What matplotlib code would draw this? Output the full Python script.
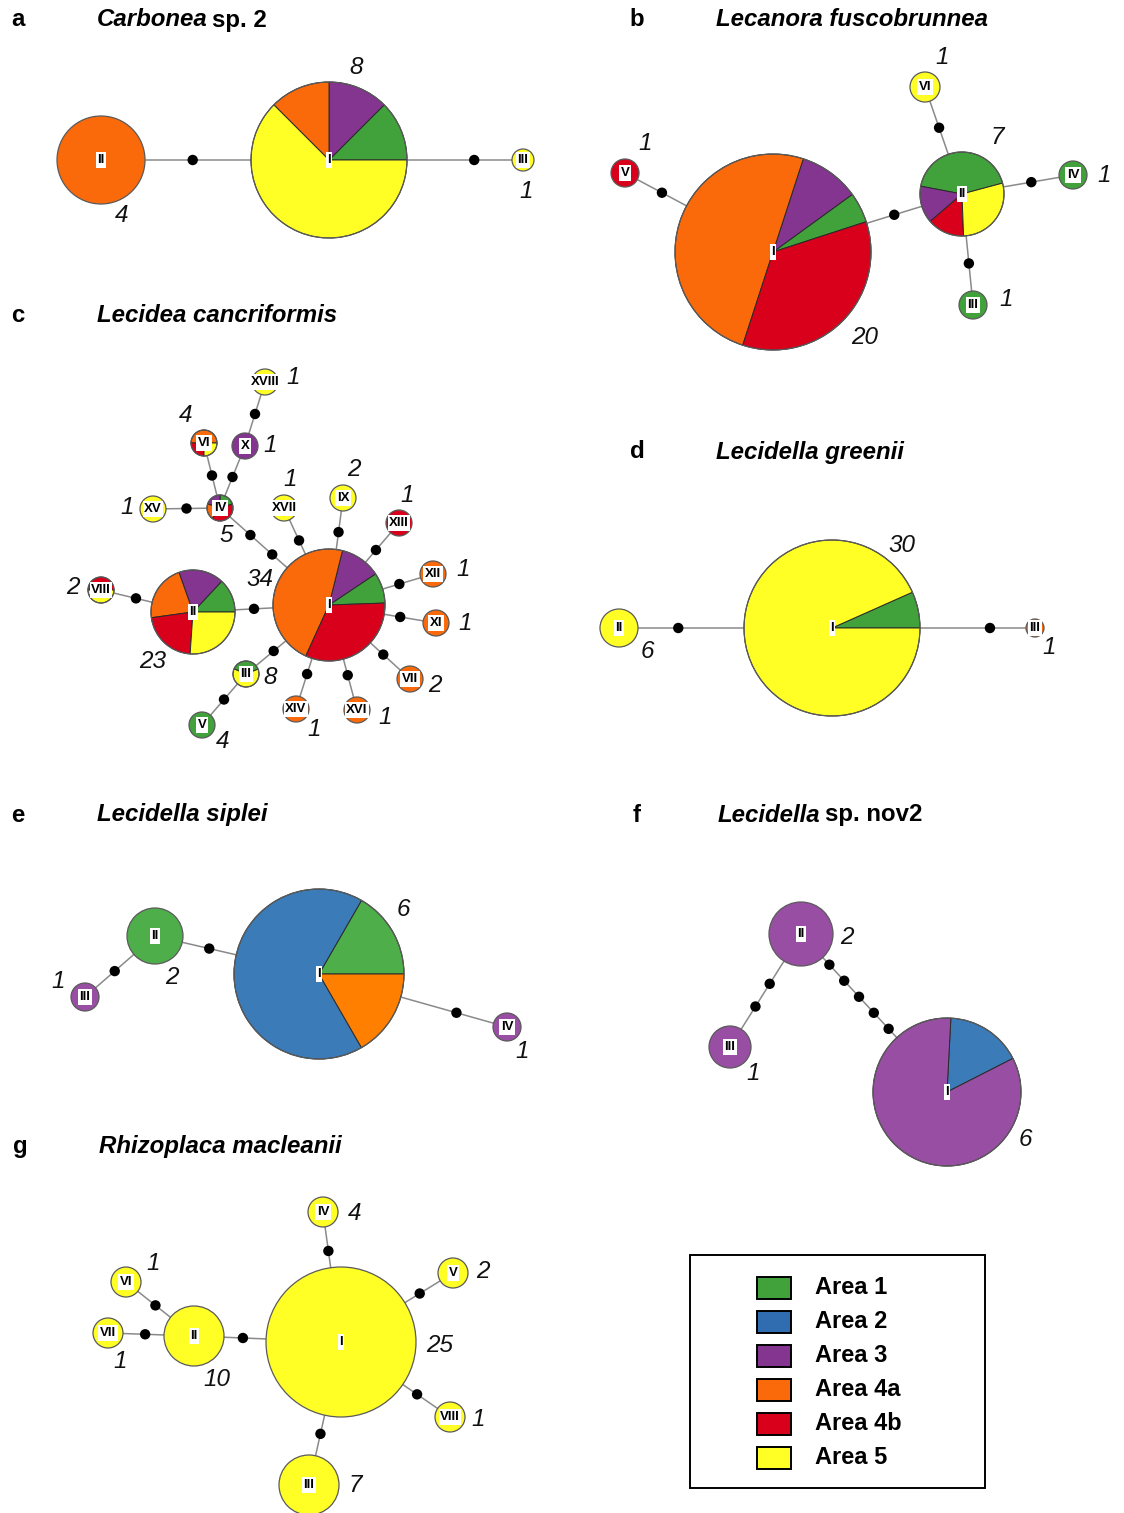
import matplotlib
matplotlib.use("Agg")
import matplotlib.pyplot as plt
from matplotlib.patches import Wedge, Circle, Rectangle
import numpy as np

W, H = 1124, 1513
plt.rcParams["font.family"] = ["Liberation Sans", "DejaVu Sans"]

AREAS = ["Area 1", "Area 2", "Area 3", "Area 4a", "Area 4b", "Area 5"]

# ---------------------------------------------------------------- data
# Haplotype composition: (area, number of specimens), in slice order
a_haplotypes = {
    "I": [("Area 1", 1), ("Area 3", 1), ("Area 4a", 1), ("Area 5", 5)],
    "II": [("Area 4a", 4)],
    "III": [("Area 5", 1)],
}
# edges: (haplotype, haplotype, mutation steps)
a_edges = [("II", "I", 1), ("I", "III", 1)]

b_haplotypes = {
    "I": [("Area 1", 1), ("Area 3", 2), ("Area 4a", 10), ("Area 4b", 7)],
    "II": [("Area 1", 3), ("Area 3", 1), ("Area 4b", 1), ("Area 5", 2)],
    "III": [("Area 1", 1)],
    "IV": [("Area 1", 1)],
    "V": [("Area 4b", 1)],
    "VI": [("Area 5", 1)],
}
b_edges = [("V", "I", 1), ("I", "II", 1), ("II", "VI", 1), ("II", "IV", 1), ("II", "III", 1)]

c_haplotypes = {
    "I": [("Area 1", 3), ("Area 3", 4), ("Area 4a", 16), ("Area 4b", 11)],
    "II": [("Area 1", 3), ("Area 3", 4), ("Area 4a", 5), ("Area 4b", 5), ("Area 5", 6)],
    "III": [("Area 1", 3), ("Area 5", 5)],
    "IV": [("Area 1", 1), ("Area 3", 1), ("Area 4a", 1), ("Area 4b", 2)],
    "V": [("Area 1", 4)],
    "VI": [("Area 4a", 2), ("Area 4b", 1), ("Area 5", 1)],
    "VII": [("Area 4a", 2)],
    "VIII": [("Area 4b", 1), ("Area 5", 1)],
    "IX": [("Area 5", 2)],
    "X": [("Area 3", 1)],
    "XI": [("Area 4a", 1)],
    "XII": [("Area 4a", 1)],
    "XIII": [("Area 4b", 1)],
    "XIV": [("Area 4a", 1)],
    "XV": [("Area 5", 1)],
    "XVI": [("Area 4a", 1)],
    "XVII": [("Area 5", 1)],
    "XVIII": [("Area 5", 1)],
}
c_edges = [("II", "VIII", 1), ("I", "II", 1), ("I", "IV", 2), ("IV", "XV", 1),
           ("IV", "VI", 1), ("IV", "X", 1), ("X", "XVIII", 1), ("I", "XVII", 1),
           ("I", "IX", 1), ("I", "XIII", 1), ("I", "XII", 1), ("I", "XI", 1),
           ("I", "VII", 1), ("I", "XVI", 1), ("I", "XIV", 1), ("I", "III", 1),
           ("III", "V", 1)]

d_haplotypes = {
    "I": [("Area 1", 2), ("Area 5", 28)],
    "II": [("Area 5", 6)],
    "III": [("Area 4a", 1)],
}
d_edges = [("II", "I", 1), ("I", "III", 1)]

e_haplotypes = {
    "I": [("Area 1", 1), ("Area 2", 4), ("Area 4a", 1)],
    "II": [("Area 1", 2)],
    "III": [("Area 3", 1)],
    "IV": [("Area 3", 1)],
}
e_edges = [("II", "I", 1), ("II", "III", 1), ("I", "IV", 1)]

f_haplotypes = {
    "I": [("Area 2", 1), ("Area 3", 5)],
    "II": [("Area 3", 2)],
    "III": [("Area 3", 1)],
}
f_edges = [("II", "III", 2), ("II", "I", 5)]

g_haplotypes = {
    "I": [("Area 5", 25)],
    "II": [("Area 5", 10)],
    "III": [("Area 5", 7)],
    "IV": [("Area 5", 4)],
    "V": [("Area 5", 2)],
    "VI": [("Area 5", 1)],
    "VII": [("Area 5", 1)],
    "VIII": [("Area 5", 1)],
}
g_edges = [("I", "II", 1), ("II", "VI", 1), ("II", "VII", 1), ("I", "IV", 1),
           ("I", "V", 1), ("I", "VIII", 1), ("I", "III", 1)]

# ---------------------------------------------------------------- styles
COLORS = {"Area 1": "#41a13a", "Area 2": "#2f6db0", "Area 3": "#833590",
          "Area 4a": "#fa6a0a", "Area 4b": "#d8001b", "Area 5": "#ffff26"}
COLORS_SOFT = {"Area 1": "#4dae4a", "Area 2": "#3a7bb8", "Area 3": "#984ea3",
               "Area 4a": "#ff7f00", "Area 4b": "#d8001b", "Area 5": "#ffff26"}

TITLE_FS = 17.3
NUM_FS = 17.5
TAG_FS = 9.5

# ---------------------------------------------------------------- layout
# node: (x, y, radius, first slice angle) in pixels, y downward
a_nodes = {"I": (329, 160, 78, 0), "II": (101, 160, 44, 0), "III": (523, 160, 11, 0)}
a_nums = {"I": (356, 68), "II": (122, 216), "III": (526, 192)}
a_steps = {("II", "I"): [0.45], ("I", "III"): [0.64]}

b_nodes = {"I": (773, 252, 98, 18), "II": (962, 194, 42, 15), "III": (973, 305, 14, 0),
           "IV": (1073, 175, 14, 0), "V": (625, 173, 14, 0), "VI": (925, 87, 15, 0)}
b_nums = {"I": (865, 338), "II": (997, 138), "III": (1006, 300), "IV": (1104, 175),
          "V": (645, 143), "VI": (942, 58)}
b_steps = {}

c_nodes = {"I": (329, 605, 56, 2), "II": (193, 612, 42, 0), "III": (246, 674, 13, 22),
           "IV": (220, 508, 13, 18), "V": (202, 725, 13, 0), "VI": (204, 443, 13, 0),
           "VII": (410, 679, 13, 0), "VIII": (101, 590, 13, 0), "IX": (343, 498, 13, 0),
           "X": (245, 446, 13, 0), "XI": (436, 623, 13, 0), "XII": (433, 574, 13, 0),
           "XIII": (399, 523, 13, 0), "XIV": (296, 709, 13, 0), "XV": (153, 509, 13, 0),
           "XVI": (357, 710, 13, 0), "XVII": (284, 508, 13, 0), "XVIII": (265, 382, 13, 0)}
c_nums = {"I": (260, 580), "II": (153, 662), "III": (270, 677), "IV": (226, 535),
          "V": (223, 742), "VI": (186, 415), "VII": (435, 686), "VIII": (73, 587),
          "IX": (354, 469), "X": (270, 446), "XI": (465, 624), "XII": (463, 570),
          "XIII": (407, 496), "XIV": (314, 729), "XV": (127, 507), "XVI": (385, 718),
          "XVII": (290, 479), "XVIII": (293, 377)}
c_steps = {("II", "VIII"): [0.42], ("I", "IV"): [0.26, 0.64],
           ("I", "XVII"): [0.4], ("I", "IX"): [0.45], ("I", "XIII"): [0.42],
           ("I", "XII"): [0.44], ("I", "XI"): [0.41], ("I", "VII"): [0.43],
           ("I", "XVI"): [0.42], ("I", "XIV"): [0.41], ("I", "III"): [0.41]}

d_nodes = {"I": (832, 628, 88, 0), "II": (619, 628, 19, 0), "III": (1035, 628, 9, 0)}
d_nums = {"I": (902, 545), "II": (647, 652), "III": (1049, 648)}
d_steps = {("II", "I"): [0.38], ("I", "III"): [0.66]}

e_nodes = {"I": (319, 974, 85, 0), "II": (155, 936, 28, 0), "III": (85, 997, 14, 0),
           "IV": (507, 1027, 14, 0)}
e_nums = {"I": (403, 909), "II": (172, 978), "III": (58, 982), "IV": (522, 1052)}
e_steps = {("I", "IV"): [0.6]}

f_nodes = {"I": (947, 1092, 74, 27), "II": (801, 934, 32, 0), "III": (730, 1047, 21, 0)}
f_nums = {"I": (1025, 1140), "II": (847, 938), "III": (753, 1073)}
f_steps = {("II", "I"): [0.09, 0.29, 0.49, 0.69, 0.89]}

g_nodes = {"I": (341, 1342, 75, 0), "II": (194, 1336, 30, 0), "III": (309, 1485, 30, 0),
           "IV": (323, 1212, 15, 0), "V": (453, 1273, 15, 0), "VI": (126, 1282, 15, 0),
           "VII": (108, 1333, 15, 0), "VIII": (450, 1417, 15, 0)}
g_nums = {"I": (440, 1346), "II": (217, 1380), "III": (355, 1486), "IV": (355, 1213),
          "V": (483, 1272), "VI": (153, 1263), "VII": (120, 1362), "VIII": (478, 1420)}
g_steps = {("I", "II"): [0.55], ("II", "VI"): [0.46], ("II", "VII"): [0.46],
           ("I", "IV"): [0.41], ("I", "V"): [0.42], ("I", "VIII"): [0.41],
           ("I", "III"): [0.46]}

# ---------------------------------------------------------------- drawing
fig = plt.figure(figsize=(W / 100, H / 100), dpi=100)
ax = fig.add_axes([0, 0, 1, 1])
ax.set_xlim(0, W)
ax.set_ylim(0, H)
ax.set_aspect("equal")
ax.axis("off")

LINE = "#8a8a8a"
RIM = "#5a5a5a"


def Y(y):
    return H - y


def draw_network(haps, edges, nodes, nums, steps, colors):
    # connecting lines with mutation-step dots
    for a, b, n in edges:
        xa, ya, ra, _ = nodes[a]
        xb, yb, rb, _ = nodes[b]
        p0 = np.array([xa, Y(ya)], float)
        p1 = np.array([xb, Y(yb)], float)
        ax.plot([p0[0], p1[0]], [p0[1], p1[1]], color=LINE, lw=1.1, zorder=1,
                solid_capstyle="butt")
        d = p1 - p0
        L = np.hypot(*d)
        u = d / L
        fr = steps.get((a, b), [(i + 1) / (n + 1) for i in range(n)])
        for f in fr[:n]:
            p = p0 + u * (ra + f * (L - ra - rb))
            ax.add_patch(Circle(p, 5.2, fc="black", ec="none", zorder=2))
    # pie nodes
    for name, comp in haps.items():
        x, y, r, start = nodes[name]
        c = (x, Y(y))
        total = sum(k for _, k in comp)
        if len(comp) == 1:
            ax.add_patch(Circle(c, r, fc=colors[comp[0][0]], ec=RIM, lw=0.9, zorder=3))
        else:
            ang = start
            for area, k in comp:
                span = 360.0 * k / total
                ax.add_patch(Wedge(c, r, ang, ang + span, fc=colors[area],
                                   ec="#2a2a2a", lw=0.7, zorder=3))
                ang += span
            ax.add_patch(Circle(c, r, fc="none", ec=RIM, lw=0.9, zorder=4))
        ax.text(c[0], c[1], name, ha="center", va="center", fontsize=TAG_FS,
                fontweight="bold", zorder=6,
                bbox=dict(boxstyle="square,pad=0.12", fc="white", ec="none"))
        nx, ny = nums[name]
        ax.text(nx, Y(ny), str(total), ha="center", va="center", fontsize=NUM_FS,
                style="italic", color="#111111", zorder=6)


def panel_title(letter, lx, tx, y, italic_part, plain_part=""):
    ax.text(lx, Y(y), letter, ha="center", va="center", fontsize=TITLE_FS,
            fontweight="bold")
    t = ax.text(tx, Y(y), italic_part, ha="left", va="center", fontsize=TITLE_FS,
                fontweight="bold", style="italic")
    if plain_part:
        ax.annotate(plain_part, xy=(1, 0), xycoords=t, xytext=(3.2, 0),
                    textcoords="offset points", ha="left", va="bottom",
                    fontsize=TITLE_FS, fontweight="bold")


panel_title("a", 18, 97, 20, "Carbonea", "sp. 2")
panel_title("b", 637, 716, 20, "Lecanora fuscobrunnea")
panel_title("c", 18, 97, 316, "Lecidea cancriformis")
panel_title("d", 637, 716, 452, "Lecidella greenii")
panel_title("e", 18, 97, 815, "Lecidella siplei")
panel_title("f", 637, 718, 815, "Lecidella", "sp. nov2")
panel_title("g", 20, 99, 1146, "Rhizoplaca macleanii")

draw_network(a_haplotypes, a_edges, a_nodes, a_nums, a_steps, COLORS)
draw_network(b_haplotypes, b_edges, b_nodes, b_nums, b_steps, COLORS)
draw_network(c_haplotypes, c_edges, c_nodes, c_nums, c_steps, COLORS)
draw_network(d_haplotypes, d_edges, d_nodes, d_nums, d_steps, COLORS)
draw_network(e_haplotypes, e_edges, e_nodes, e_nums, e_steps, COLORS_SOFT)
draw_network(f_haplotypes, f_edges, f_nodes, f_nums, f_steps, COLORS_SOFT)
draw_network(g_haplotypes, g_edges, g_nodes, g_nums, g_steps, COLORS)

# legend box
ax.add_patch(Rectangle((690, Y(1488)), 295, 233, fc="white", ec="black", lw=1.4,
                       zorder=1))
for i, area in enumerate(AREAS):
    yc = 1288 + 34 * i
    ax.add_patch(Rectangle((757, Y(yc) - 11), 34, 22, fc=COLORS[area], ec="black",
                           lw=1.4, zorder=2))
    ax.text(815, Y(yc), area, ha="left", va="center", fontsize=17,
            fontweight="bold", zorder=3)

fig.savefig("out.png", dpi=100)
